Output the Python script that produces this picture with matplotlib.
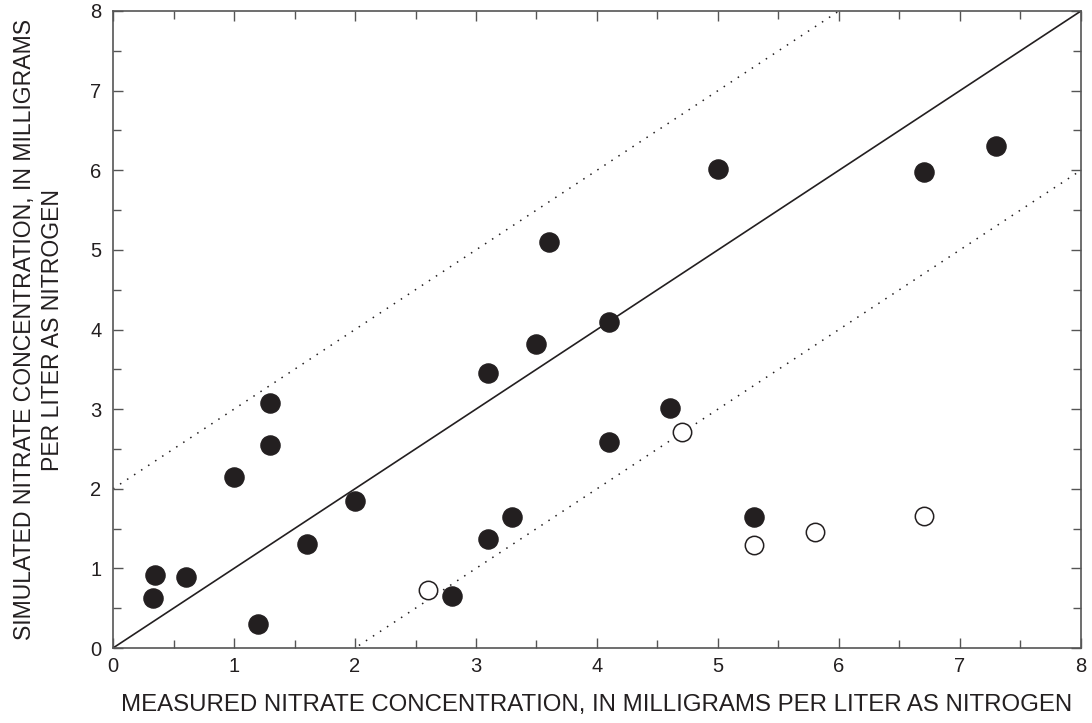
import matplotlib
matplotlib.use("Agg")
import matplotlib.pyplot as plt
from matplotlib.ticker import MultipleLocator

plt.rcParams['font.family'] = ['Liberation Sans', 'DejaVu Sans']

# Sites plotted with filled circles
filled_measured = [0.33, 0.35, 0.6, 1.0, 1.2, 1.3, 1.3, 1.6, 2.0, 2.8, 3.1,
                   3.1, 3.3, 3.5, 3.6, 4.1, 4.1, 4.6, 5.0, 5.3, 6.7, 7.3]
filled_simulated = [0.63, 0.92, 0.89, 2.15, 0.30, 3.08, 2.55, 1.31, 1.85, 0.65, 1.37,
                    3.46, 1.65, 3.82, 5.10, 4.10, 2.59, 3.01, 6.01, 1.65, 5.98, 6.30]

# Sites plotted with open circles
open_measured = [2.6, 4.7, 5.3, 5.8, 6.7]
open_simulated = [0.73, 2.71, 1.29, 1.46, 1.66]

# 1:1 line and +/- 2 mg/L band
line_x = [0, 8]
band_offset = 2.0

ink = '#231f20'

fig = plt.figure(figsize=(10.92, 7.23), dpi=100)
ax = fig.add_axes([0.1035, 0.1037, 0.8864, 0.8811])

ax.plot(line_x, line_x, color=ink, lw=1.2, zorder=2)
ax.plot(line_x, [v + band_offset for v in line_x], color=ink, lw=1.1,
        linestyle=(0, (1, 4.5)), zorder=2)
ax.plot(line_x, [v - band_offset for v in line_x], color=ink, lw=1.1,
        linestyle=(0, (1, 4.5)), zorder=2)

ax.scatter(filled_measured, filled_simulated, s=190, color=ink, zorder=3)
ax.scatter(open_measured, open_simulated, s=175, facecolor='white',
           edgecolor=ink, linewidth=1.1, zorder=3)

ax.set_xlim(0, 8)
ax.set_ylim(0, 8)
ax.xaxis.set_major_locator(MultipleLocator(1))
ax.yaxis.set_major_locator(MultipleLocator(1))
ax.xaxis.set_minor_locator(MultipleLocator(0.5))
ax.yaxis.set_minor_locator(MultipleLocator(0.5))

ax.tick_params(which='both', direction='in', top=True, right=True,
               color='#555555', width=1.0, labelsize=14.5, labelcolor=ink)
ax.tick_params(axis='x', which='both', pad=6.3)
ax.tick_params(axis='y', which='both', pad=8.3)
ax.tick_params(which='major', length=7.5)
ax.tick_params(which='minor', length=6)
for sp in ax.spines.values():
    sp.set_color('#555555')
    sp.set_linewidth(1.2)

ax.set_xlabel('MEASURED NITRATE CONCENTRATION, IN MILLIGRAMS PER LITER AS NITROGEN',
              fontsize=17.3, color=ink, labelpad=13)
ax.set_ylabel('SIMULATED NITRATE CONCENTRATION, IN MILLIGRAMS\nPER LITER AS NITROGEN',
              fontsize=16.6, color=ink, labelpad=19, linespacing=1.27)

fig.savefig('out.png', dpi=100)
